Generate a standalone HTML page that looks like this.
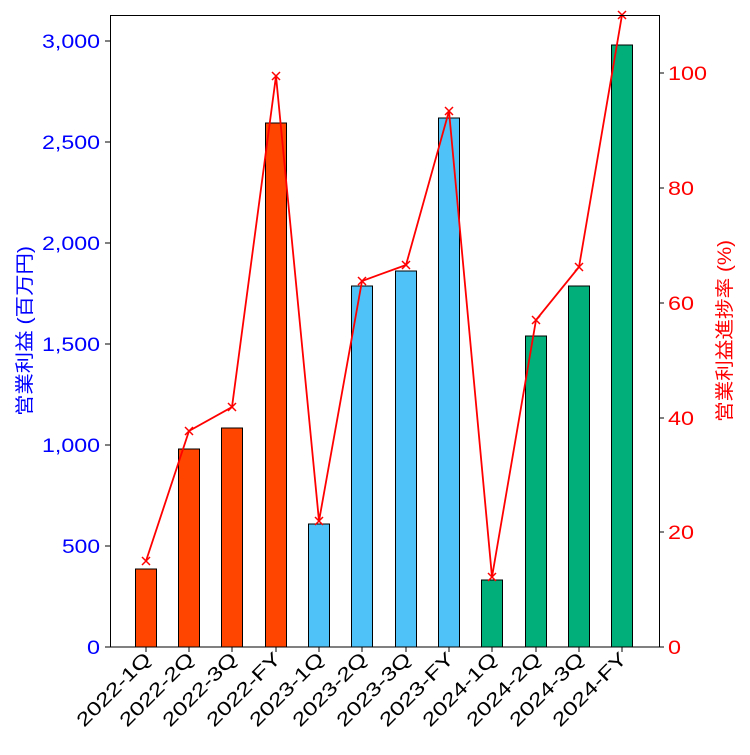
<!DOCTYPE html>
<html><head><meta charset="utf-8"><style>body{margin:0;background:#fff}</style></head><body>
<svg width="750" height="750" xmlns="http://www.w3.org/2000/svg" font-family="Liberation Sans, Noto Sans CJK JP, sans-serif">
<rect width="750" height="750" fill="#fff"/>
<g stroke="#000" stroke-width="1">
<rect x="135.5" y="569" width="21" height="78" fill="#FF4500"/>
<rect x="178.5" y="449" width="21" height="198" fill="#FF4500"/>
<rect x="221.5" y="428" width="21" height="219" fill="#FF4500"/>
<rect x="265.5" y="123" width="21" height="524" fill="#FF4500"/>
<rect x="308.5" y="524" width="21" height="123" fill="#4FC3F7"/>
<rect x="351.5" y="286" width="21" height="361" fill="#4FC3F7"/>
<rect x="395.5" y="271" width="21" height="376" fill="#4FC3F7"/>
<rect x="438.5" y="118" width="21" height="529" fill="#4FC3F7"/>
<rect x="481.5" y="580" width="21" height="67" fill="#00AF7A"/>
<rect x="525.5" y="336" width="21" height="311" fill="#00AF7A"/>
<rect x="568.5" y="286" width="21" height="361" fill="#00AF7A"/>
<rect x="611.5" y="45" width="21" height="602" fill="#00AF7A"/>
</g>
<polyline fill="none" stroke="#f00" stroke-width="1.8" points="146,561 189,431 232,407 276,76 319,521 362,281 406,265 449,111 492,577 536,320 579,267 622,15"/>
<g stroke="#f00" stroke-width="1.5">
<path d="M142,557l8,8m0,-8l-8,8M185,427l8,8m0,-8l-8,8M228,403l8,8m0,-8l-8,8M272,72l8,8m0,-8l-8,8M315,517l8,8m0,-8l-8,8M358,277l8,8m0,-8l-8,8M402,261l8,8m0,-8l-8,8M445,107l8,8m0,-8l-8,8M488,573l8,8m0,-8l-8,8M532,316l8,8m0,-8l-8,8M575,263l8,8m0,-8l-8,8M618,11l8,8m0,-8l-8,8"/>
</g>
<rect x="110.5" y="15.5" width="549" height="631.5" fill="none" stroke="#000" stroke-width="1"/>
<g stroke="#000"><path d="M105,647h5M105,546h5M105,445h5M105,344h5M105,243h5M105,142h5M105,41h5"/>
<path d="M659,647h5M659,532h5M659,418h5M659,303h5M659,188h5M659,73h5"/>
<path d="M146,647v5M189,647v5M232,647v5M276,647v5M319,647v5M362,647v5M406,647v5M449,647v5M492,647v5M536,647v5M579,647v5M622,647v5"/></g>
<g fill="#00f" font-size="19" text-anchor="end" lengthAdjust="spacingAndGlyphs">
<text x="100" y="654" textLength="13" lengthAdjust="spacingAndGlyphs">0</text>
<text x="100" y="553" textLength="38" lengthAdjust="spacingAndGlyphs">500</text>
<text x="100" y="452" textLength="58" lengthAdjust="spacingAndGlyphs">1,000</text>
<text x="100" y="351" textLength="58" lengthAdjust="spacingAndGlyphs">1,500</text>
<text x="100" y="250" textLength="58" lengthAdjust="spacingAndGlyphs">2,000</text>
<text x="100" y="149" textLength="58" lengthAdjust="spacingAndGlyphs">2,500</text>
<text x="100" y="48" textLength="58" lengthAdjust="spacingAndGlyphs">3,000</text></g>
<g fill="#f00" font-size="19">
<text x="668" y="654" textLength="13" lengthAdjust="spacingAndGlyphs">0</text>
<text x="668" y="539" textLength="26" lengthAdjust="spacingAndGlyphs">20</text>
<text x="668" y="425" textLength="26" lengthAdjust="spacingAndGlyphs">40</text>
<text x="668" y="310" textLength="26" lengthAdjust="spacingAndGlyphs">60</text>
<text x="668" y="195" textLength="26" lengthAdjust="spacingAndGlyphs">80</text>
<text x="668" y="80" textLength="39" lengthAdjust="spacingAndGlyphs">100</text></g>
<text transform="translate(31,331) rotate(-90)" fill="#00f" font-size="19" text-anchor="middle" textLength="170" lengthAdjust="spacingAndGlyphs">営業利益 (百万円)</text>
<text transform="translate(731,331) rotate(-90)" fill="#f00" font-size="19" text-anchor="middle" textLength="182" lengthAdjust="spacingAndGlyphs">営業利益進捗率 (%)</text>
<g font-size="19" text-anchor="end" fill="#000">
<text transform="translate(152,660) rotate(-45)" textLength="96" lengthAdjust="spacingAndGlyphs">2022-1Q</text>
<text transform="translate(195,660) rotate(-45)" textLength="96" lengthAdjust="spacingAndGlyphs">2022-2Q</text>
<text transform="translate(238,660) rotate(-45)" textLength="96" lengthAdjust="spacingAndGlyphs">2022-3Q</text>
<text transform="translate(282,660) rotate(-45)" textLength="96" lengthAdjust="spacingAndGlyphs">2022-FY</text>
<text transform="translate(325,660) rotate(-45)" textLength="96" lengthAdjust="spacingAndGlyphs">2023-1Q</text>
<text transform="translate(368,660) rotate(-45)" textLength="96" lengthAdjust="spacingAndGlyphs">2023-2Q</text>
<text transform="translate(412,660) rotate(-45)" textLength="96" lengthAdjust="spacingAndGlyphs">2023-3Q</text>
<text transform="translate(455,660) rotate(-45)" textLength="96" lengthAdjust="spacingAndGlyphs">2023-FY</text>
<text transform="translate(498,660) rotate(-45)" textLength="96" lengthAdjust="spacingAndGlyphs">2024-1Q</text>
<text transform="translate(542,660) rotate(-45)" textLength="96" lengthAdjust="spacingAndGlyphs">2024-2Q</text>
<text transform="translate(585,660) rotate(-45)" textLength="96" lengthAdjust="spacingAndGlyphs">2024-3Q</text>
<text transform="translate(628,660) rotate(-45)" textLength="96" lengthAdjust="spacingAndGlyphs">2024-FY</text>
</g>
</svg>
</body></html>
